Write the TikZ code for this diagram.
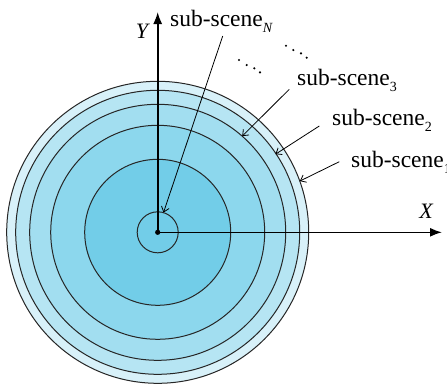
\documentclass[tikz,border=0pt]{standalone}
\usepackage{fontspec}
\setmainfont{Liberation Serif}
\usetikzlibrary{arrows.meta}
\definecolor{ringA}{HTML}{D8F1F9}
\definecolor{ringB}{HTML}{B6E5F3}
\definecolor{ringC}{HTML}{A2DEF0}
\definecolor{ringD}{HTML}{8CD7ED}
\definecolor{ringE}{HTML}{72CDE8}
\newcommand\mysubx[1]{\raisebox{-6pt}{\fontsize{14}{14}\selectfont #1}}
\tikzset{
  ring/.style={draw=black!85, line width=1pt},
  axis/.style={line width=1.6pt, -{Latex[length=12pt,width=9pt]}},
  pointer/.style={line width=0.8pt, -{Straight Barb[length=5pt,width=8pt]}},
  lbl/.style={anchor=base west, inner sep=0pt, font=\fontsize{23.5}{28}\selectfont},
  axlbl/.style={inner sep=0pt, font=\fontsize{22}{26}\selectfont\itshape}
}
\begin{document}
\begin{tikzpicture}[x=1pt,y=-1pt]
\useasboundingbox (0,0) rectangle (447,384);
\coordinate (c) at (157.7,232.3);
% discs
\fill[ringA] (c) circle[radius=151pt];
\fill[ringB] (c) circle[radius=142pt];
\fill[ringC] (c) circle[radius=128pt];
\fill[ringD] (c) circle[radius=107pt];
\fill[ringE] (c) circle[radius=73pt];
\foreach \r in {151,142,128,107,73,20.5} \draw[ring] (c) circle[radius=\r pt];
% axes
\draw[axis] (c) -- (157.7,12) coordinate (ytip);
\draw[axis] (c) -- (442,232.3) coordinate (xtip);
\fill (c) circle[radius=2.6pt];
\node[axlbl] (ylab) at (142,31) {Y};
\node[axlbl] (xlab) at (426,211) {X};
% labels
\node[lbl] (lN) at (170,26) {sub-scene\mysubx{\itshape N}};
\node[lbl] (l3) at (297,85) {sub-scene\mysubx{3}};
\node[lbl] (l2) at (332,125) {sub-scene\mysubx{2}};
\node[lbl] (l1) at (351,167) {sub-scene\mysubx{1}};
% pointer coordinates
\coordinate (sN) at (222.7,36);
\coordinate (tN) at (163.5,212.6);
\coordinate (s3) at (289.3,89.3);
\coordinate (t3) at (242.2,136.1);
\coordinate (s2) at (319.3,126);
\coordinate (t2) at (275.5,154.2);
\coordinate (s1) at (339.3,161.7);
\coordinate (t1) at (299.8,181.1);
\draw[pointer] (sN) -- (tN);
\draw[pointer] (s3) -- (t3);
\draw[pointer] (s2) -- (t2);
\draw[pointer] (s1) -- (t1);
% dots
\foreach \p in {(239,60),(246.7,65),(254.3,68.3),(260,72.3),(286,45.7),(293.3,50),(301,53.3),(306.7,57.7)}
  \fill \p circle[radius=1.2pt];
\end{tikzpicture}
\end{document}
